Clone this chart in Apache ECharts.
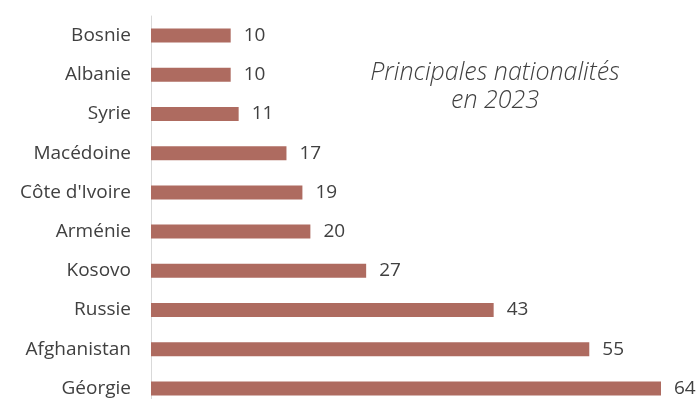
<!DOCTYPE html>
<html>
<head>
<meta charset="utf-8">
<script src="https://cdn.jsdelivr.net/npm/echarts@6/dist/echarts.min.js"></script>
<style>html,body{margin:0;padding:0;background:#fff;}#c{width:697px;height:399px;}</style>
</head>
<body>
<div id="c"></div>
<script>
const categories = ["Bosnie","Albanie","Syrie","Macédoine","Côte d'Ivoire","Arménie","Kosovo","Russie","Afghanistan","Géorgie"];
const values = [10,10,11,17,19,20,27,43,55,64];
const titleLines = ["Principales nationalités","en 2023"];

const chart = echarts.init(document.getElementById('c'), null, {renderer:'canvas'});
chart.setOption({
  animation:false,
  title:{
    text: titleLines.join('\n'),
    left: 490, top: 54, textAlign:'center',
    textStyle:{fontFamily:'Open Sans', fontStyle:'italic', fontWeight:300, fontSize:25, color:'#404040', lineHeight:28}
  },
  grid:{left:151, top:16, right:36, height:392, containLabel:false, outerBoundsMode:'none'},
  xAxis:{type:'value', min:0, max:64, show:false},
  yAxis:{type:'category', data:categories, inverse:true,
    axisLine:{show:true, lineStyle:{color:'#d9d9d9', width:1}},
    axisTick:{show:false},
    axisLabel:{margin:20, fontFamily:'Open Sans', fontSize:19, color:'#404040'}
  },
  series:[{
    type:'bar', data:values, barWidth:14,
    itemStyle:{color:'#ae6b60'},
    label:{show:true, position:'right', distance:13, fontFamily:'Open Sans', fontSize:19, color:'#404040'}
  }]
});
</script>
</body>
</html>
